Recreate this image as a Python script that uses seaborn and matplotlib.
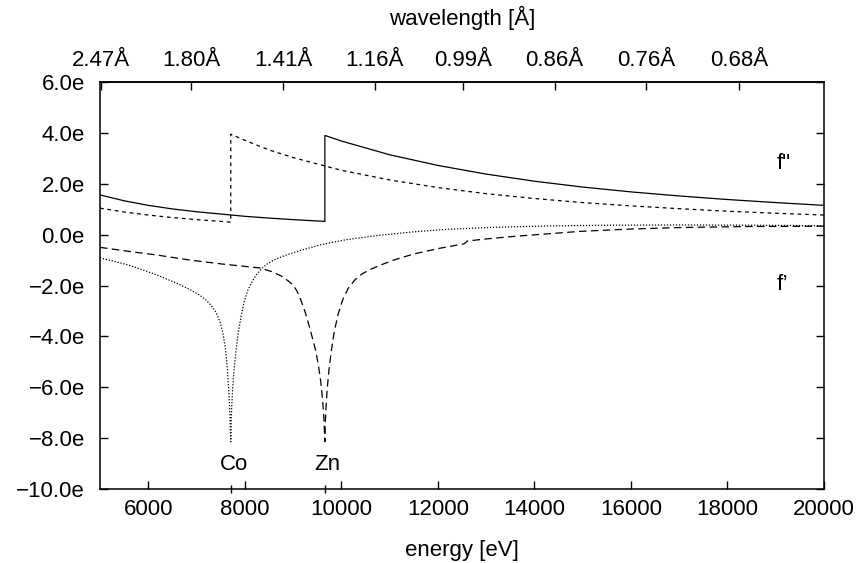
import matplotlib
matplotlib.use("Agg")
import matplotlib.pyplot as plt
import seaborn as sns
from matplotlib.ticker import FuncFormatter

# ---------------- data ----------------
# Zn f'' (solid), edge at 9659 eV
zn_f2_E = [5000, 5500, 6000, 6500, 7000, 7500, 8000, 8500, 9000, 9659, 9659,
           10000, 11000, 12000, 13000, 14000, 15000, 16000, 17000, 18000, 19000, 20000]
zn_f2 = [1.56, 1.33, 1.15, 1.01, 0.90, 0.81, 0.72, 0.65, 0.59, 0.52, 3.90,
         3.68, 3.14, 2.72, 2.38, 2.10, 1.87, 1.68, 1.52, 1.38, 1.26, 1.15]

# Co f'' (short dashes), edge at 7709 eV
co_f2_E = [5000, 5500, 6000, 6500, 7000, 7500, 7709, 7709,
           8000, 8500, 9000, 10000, 11000, 12000, 13000, 14000, 15000, 16000, 17000, 18000, 19000, 20000]
co_f2 = [1.04, 0.89, 0.77, 0.67, 0.59, 0.52, 0.49, 3.95,
         3.71, 3.33, 3.03, 2.53, 2.15, 1.85, 1.61, 1.42, 1.26, 1.13, 1.02, 0.92, 0.84, 0.77]

# Co f' (dotted)
co_f1_E = [5000, 5600, 6173, 6600, 6865, 7050, 7190, 7310, 7410, 7490, 7550, 7600, 7640, 7670, 7692, 7709,
           7717, 7730, 7750, 7778, 7815, 7865, 7925, 7985, 8060, 8150, 8240, 8331, 8450, 8600, 8750,
           8952, 9300, 9636, 10100, 10609, 10816, 11500, 12200, 13200, 14270, 15500, 17030, 18500, 20000]
co_f1 = [-0.91, -1.20, -1.58, -1.92, -2.16, -2.36, -2.56, -2.80, -3.08, -3.45, -3.90, -4.50, -5.30, -6.20, -7.10, -8.14,
         -7.40, -6.70, -6.00, -5.30, -4.60, -3.85, -3.20, -2.65, -2.20, -1.85, -1.58, -1.37, -1.17, -1.00, -0.88,
         -0.74, -0.54, -0.37, -0.20, -0.07, -0.02, 0.11, 0.21, 0.29, 0.34, 0.37, 0.38, 0.37, 0.35]

# Zn f' (long dashes)
zn_f1_E = [5000, 5600, 6173, 6865, 7548, 8315, 8550, 8750, 8900, 9000, 9075, 9162, 9260, 9350, 9420, 9473,
           9530, 9575, 9611, 9638, 9659,
           9668, 9685, 9710, 9745, 9790, 9850, 9930, 10026, 10140, 10280, 10440, 10612, 10820, 11100,
           11502, 12000, 12544, 12613, 13000, 13572, 14960, 16000, 17030, 18500, 20000]
zn_f1 = [-0.50, -0.66, -0.80, -1.00, -1.16, -1.31, -1.45, -1.62, -1.82, -1.98, -2.20, -2.57, -3.10, -3.70, -4.20, -4.60,
         -5.20, -5.80, -6.50, -7.20, -8.14,
         -7.40, -6.70, -6.00, -5.30, -4.60, -3.85, -3.15, -2.57, -2.12, -1.78, -1.53, -1.36, -1.19, -0.99,
         -0.76, -0.55, -0.36, -0.25, -0.17, -0.07, 0.13, 0.22, 0.28, 0.32, 0.33]

x_ticks = [6000, 8000, 10000, 12000, 14000, 16000, 18000, 20000]
y_ticks = [-10, -8, -6, -4, -2, 0, 2, 4, 6]
edge_E = [7709, 9659]
edge_names = ["Co", "Zn"]
wl_labels = [2.47, 1.80, 1.41, 1.16, 0.99, 0.86, 0.76, 0.68]
HC = 12398.4

# ---------------- figure ----------------
FS = 16
plt.rcParams["font.family"] = ["Liberation Sans", "DejaVu Sans"]
plt.rcParams["axes.linewidth"] = 1.1

fig = plt.figure(figsize=(8.64, 5.63), dpi=100)
ax = fig.add_axes([100 / 864, 1 - 489 / 563, 724 / 864, 407 / 563])

lw = 0.9
sns.lineplot(x=zn_f2_E, y=zn_f2, ax=ax, color="black", lw=lw, sort=False, estimator=None)
sns.lineplot(x=co_f2_E, y=co_f2, ax=ax, color="black", lw=lw, sort=False, estimator=None,
             linestyle=(0, (3, 3)))
sns.lineplot(x=co_f1_E, y=co_f1, ax=ax, color="black", lw=lw, sort=False, estimator=None,
             linestyle=(0, (1, 1.4)))
sns.lineplot(x=zn_f1_E, y=zn_f1, ax=ax, color="black", lw=lw, sort=False, estimator=None,
             linestyle=(0, (6, 3.5)))

ax.set_xlim(5000, 20000)
ax.set_ylim(-10, 6)
ax.set_xticks(x_ticks)
ax.set_xticklabels([str(v) for v in x_ticks], fontsize=FS)
ax.set_yticks(y_ticks)
ax.yaxis.set_major_formatter(FuncFormatter(lambda v, p: f"{v:.1f}e".replace("-", "\u2212")))
ax.tick_params(axis="both", which="major", direction="in", length=5.8, width=1.0,
               labelsize=FS, right=True, top=False)
ax.tick_params(axis="x", which="major", pad=7.5)
ax.tick_params(axis="y", which="major", pad=11)
ax.set_xticks(edge_E, minor=True)
ax.tick_params(axis="x", which="minor", direction="inout", length=6, width=1.0, top=False)

ax.set_xlabel("energy [eV]", fontsize=FS, labelpad=14)

sec = ax.secondary_xaxis("top")
sec.set_xticks([HC / w for w in wl_labels])
sec.set_xticklabels([f"{w:.2f}\u00c5" for w in wl_labels], fontsize=FS)
sec.tick_params(axis="x", direction="in", length=5.8, width=1.0, pad=8, labelsize=FS)
sec.set_xlabel("wavelength [\u00c5]", fontsize=FS, labelpad=18)

for e, n in zip(edge_E, edge_names):
    ax.text(e + 60, -9.05, n, ha="center", va="center", fontsize=FS)
ax.text(19020, 2.81, "f\"", ha="left", va="center", fontsize=FS)
ax.text(19020, -1.98, "f\u2019", ha="left", va="center", fontsize=FS)

fig.savefig("out.png", dpi=100)
